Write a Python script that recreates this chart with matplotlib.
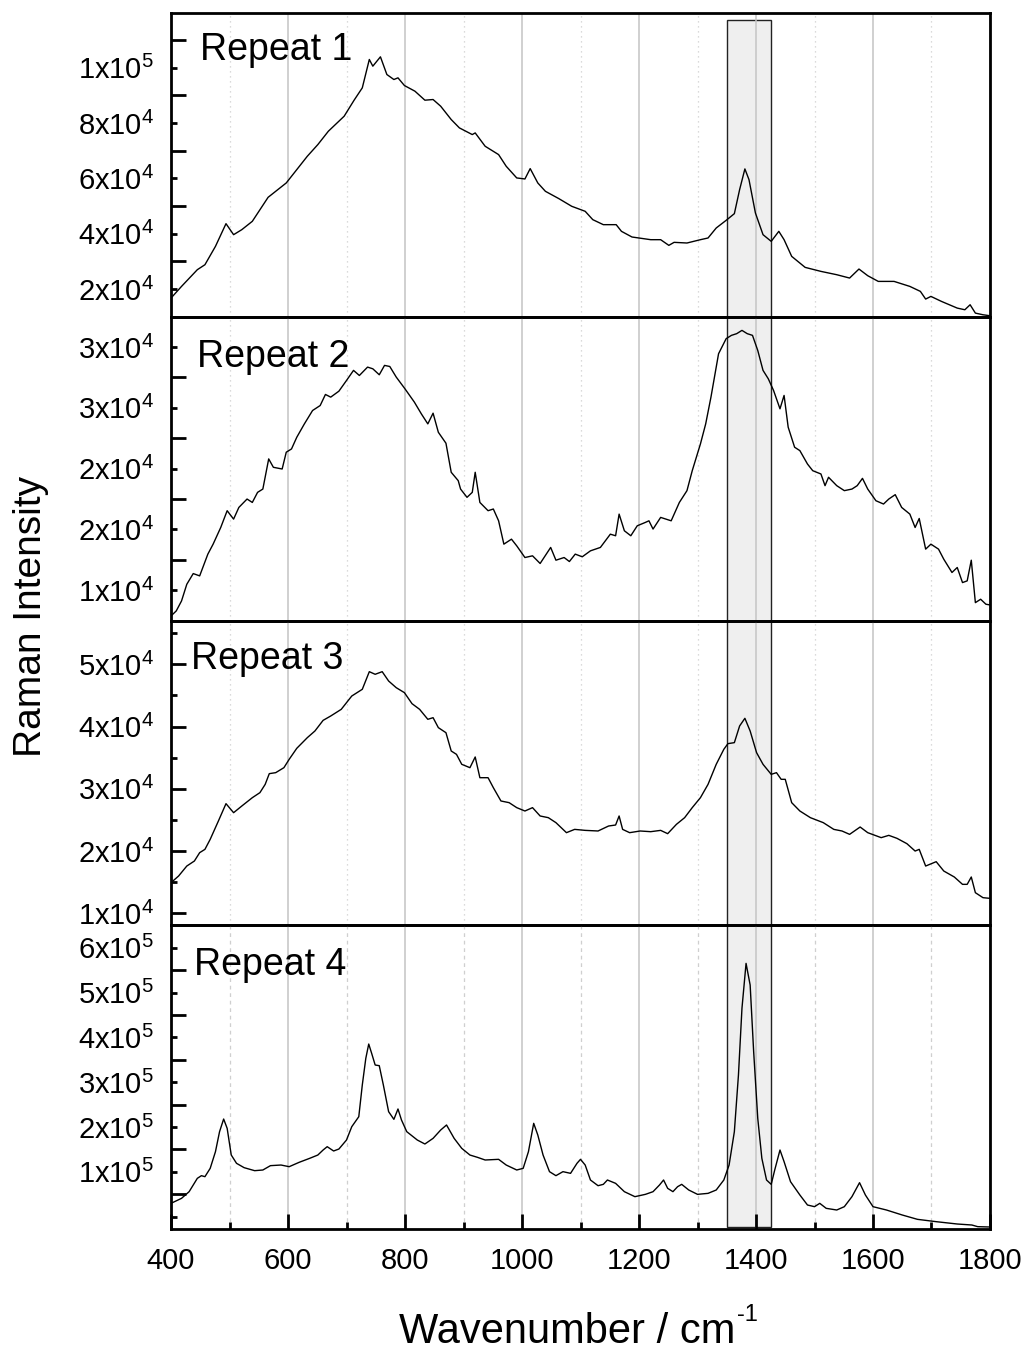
import matplotlib
matplotlib.use("Agg")
import matplotlib.pyplot as plt
import matplotlib.transforms as mtransforms
from matplotlib.patches import Rectangle
from matplotlib.ticker import MultipleLocator

plt.rcParams["font.family"] = ["Liberation Sans", "DejaVu Sans"]
plt.rcParams["mathtext.fontset"] = "custom"
plt.rcParams["mathtext.rm"] = "Liberation Sans"
plt.rcParams["mathtext.it"] = "Liberation Sans:italic"
plt.rcParams["mathtext.bf"] = "Liberation Sans:bold"
plt.rcParams["mathtext.default"] = "regular"

# ---------------- spectra (wavenumber / cm-1, intensity / counts) ----------------
rep1_wn = [400, 418, 445, 458, 476, 494, 507, 521, 539, 566, 597, 615, 633, 651, 669,
           696, 713, 727, 739, 745, 758, 769, 781, 788, 799, 817, 834, 848, 861, 879,
           893, 915, 920, 937, 960, 973, 991, 1005, 1014, 1027, 1040, 1063, 1085, 1108,
           1121, 1139, 1161, 1170, 1188, 1220, 1237, 1251, 1260, 1282, 1305, 1318, 1332,
           1349, 1363, 1372, 1381, 1388, 1399, 1412, 1426, 1439, 1448, 1461, 1484, 1511,
           1538, 1560, 1576, 1591, 1609, 1636, 1663, 1681, 1690, 1699, 1717, 1744, 1757,
           1766, 1775, 1788, 1800]
rep1_int = [16740, 20965, 27000, 28800, 35440, 43640, 39660, 41470, 44490, 53170, 58360,
            63180, 68010, 72230, 77060, 82490, 88280, 92740, 103000, 100580, 103960,
            97560, 95750, 96360, 93580, 91530, 88280, 88520, 86100, 81280, 78260, 75850,
            76450, 71630, 68610, 64390, 60170, 59800, 63550, 58360, 55340, 52690, 49920,
            48110, 45090, 43280, 43280, 40870, 38820, 37850, 37850, 35800, 36890, 36650,
            37850, 38460, 42080, 44850, 47260, 55950, 63430, 59570, 47500, 39660, 37250,
            40870, 37850, 31820, 27840, 26390, 25190, 23980, 27240, 24830, 22770, 22770,
            20960, 19160, 16380, 17350, 15540, 13120, 12520, 14330, 11310, 10710, 10350]

rep2_wn = [400, 409, 418, 427, 438, 449, 463, 472, 485, 496, 507, 516, 530, 539, 548, 557,
           567, 575, 590, 597, 606, 615, 628, 642, 655, 664, 673, 687, 700, 712, 722, 736,
           745, 756, 765, 774, 785, 800, 816, 828, 839, 848, 857, 870, 879, 891, 895, 906,
           915, 920, 928, 942, 951, 960, 969, 982, 991, 1005, 1018, 1031, 1049, 1058, 1072,
           1081, 1091, 1103, 1117, 1134, 1151, 1160, 1166, 1175, 1186, 1197, 1211, 1217,
           1224, 1237, 1255, 1269, 1282, 1291, 1305, 1314, 1323, 1336, 1349, 1358, 1367,
           1376, 1385, 1394, 1403, 1412, 1421, 1430, 1441, 1448, 1455, 1466, 1475, 1488,
           1497, 1511, 1518, 1524, 1538, 1551, 1564, 1573, 1582, 1591, 1605, 1618, 1627,
           1638, 1649, 1663, 1672, 1679, 1690, 1699, 1712, 1721, 1735, 1744, 1753, 1761,
           1768, 1775, 1784, 1793, 1800]
rep2_int = [7885, 8300, 9120, 10490, 11370, 11180, 12970, 13790, 15160, 16540, 15850, 16810,
            17500, 17220, 18050, 18320, 20800, 20110, 19970, 21350, 21620, 22580, 23680,
            24780, 25190, 26100, 25880, 26370, 27250, 28080, 27660, 28350, 28210, 27720,
            28490, 28400, 27530, 26560, 25470, 24500, 23680, 24560, 22990, 22090, 19700,
            19010, 18320, 17640, 18050, 19700, 17220, 16540, 16680, 15710, 13790, 14200,
            13650, 12690, 12830, 12200, 13520, 12470, 12690, 12360, 12970, 12750, 13240,
            13520, 14610, 14480, 16260, 14890, 14480, 15300, 15580, 15710, 15030, 15990,
            15710, 17220, 18190, 19830, 22030, 23680, 25880, 29450, 30690, 30960, 31100,
            31370, 31100, 30960, 29720, 28080, 27390, 26430, 24920, 26020, 23410, 21760,
            21480, 20380, 19830, 19560, 18600, 19290, 18600, 18190, 18320, 18600, 19200,
            18320, 17360, 17090, 17500, 17860, 16810, 16260, 15160, 15900, 13380, 13790,
            13380, 12550, 11460, 11870, 10630, 10770, 12470, 8980, 9260, 8850, 8790]

rep3_wn = [400, 413, 427, 440, 449, 458, 467, 481, 494, 507, 521, 539, 552, 561, 568, 579,
           593, 602, 615, 633, 646, 660, 673, 691, 709, 727, 739, 749, 761, 772, 785, 799,
           812, 825, 839, 848, 857, 870, 879, 888, 897, 911, 920, 928, 942, 951, 964, 978,
           991, 1005, 1018, 1031, 1045, 1058, 1076, 1090, 1108, 1130, 1148, 1160, 1166,
           1172, 1184, 1202, 1220, 1237, 1249, 1264, 1278, 1291, 1305, 1318, 1332, 1345,
           1352, 1363, 1372, 1381, 1390, 1401, 1412, 1426, 1435, 1443, 1450, 1461, 1475,
           1493, 1515, 1533, 1547, 1560, 1578, 1591, 1614, 1627, 1641, 1658, 1672, 1679,
           1690, 1708, 1721, 1739, 1753, 1761, 1768, 1775, 1788, 1800]
rep3_int = [14930, 16000, 17600, 18410, 19750, 20280, 21890, 24830, 27620, 26170, 27240,
            28580, 29390, 30720, 32440, 32600, 33400, 34740, 36510, 38220, 39290, 41000,
            41700, 42770, 44910, 45990, 48820, 48400, 48820, 47320, 46250, 45450, 43680,
            42770, 41170, 41430, 39830, 39020, 36080, 35540, 33940, 33400, 35120, 31790,
            31790, 30190, 28050, 27780, 26980, 26440, 26980, 25640, 25370, 24570, 22960,
            23490, 23330, 23230, 24030, 24190, 25640, 23490, 22960, 23230, 23120, 23330,
            22800, 24300, 25370, 26980, 28580, 30720, 33940, 36350, 37260, 37420, 40100,
            41330, 39290, 35810, 33940, 32330, 32600, 31530, 31530, 27780, 26440, 25370,
            24570, 23490, 23230, 22690, 23870, 22960, 22160, 22530, 22050, 21190, 20010,
            20280, 17600, 18300, 16800, 15840, 14660, 14660, 15840, 13320, 12520, 12410]

rep4_wn = [400, 418, 431, 445, 452, 458, 467, 476, 483, 490, 496, 503, 512, 525, 543, 557,
           570, 588, 602, 619, 637, 651, 660, 667, 678, 687, 700, 709, 721, 727, 733, 738,
           743, 749, 756, 763, 772, 781, 788, 794, 803, 821, 834, 848, 861, 871, 884, 897,
           911, 924, 937, 960, 973, 991, 1002, 1011, 1020, 1027, 1036, 1047, 1058, 1070,
           1083, 1094, 1100, 1108, 1117, 1130, 1139, 1146, 1160, 1175, 1193, 1211, 1224,
           1235, 1242, 1249, 1258, 1266, 1273, 1285, 1300, 1318, 1332, 1345, 1354, 1363,
           1370, 1376, 1383, 1390, 1396, 1403, 1410, 1418, 1426, 1432, 1441, 1448, 1459,
           1475, 1488, 1500, 1509, 1520, 1538, 1551, 1564, 1577, 1587, 1600, 1623, 1650,
           1676, 1708, 1744, 1769, 1779, 1800]
rep4_int = [29740, 40890, 55760, 85500, 91450, 89220, 107800, 145000, 189600, 217800,
            197000, 137500, 119000, 109300, 102600, 104100, 113800, 115200, 111500, 121200,
            130100, 137500, 148700, 156100, 146500, 150900, 171000, 200700, 223000, 293700,
            353200, 385100, 364300, 338300, 336800, 293700, 234200, 217100, 240200, 215600,
            189600, 171000, 162100, 174700, 193300, 204500, 174700, 152400, 137500, 132300,
            126400, 127900, 115200, 104100, 107800, 145000, 208200, 182200, 137500, 100400,
            91450, 100400, 96650, 119000, 127900, 115200, 81800, 69100, 72100, 81800, 74350,
            55760, 44610, 49800, 55760, 70600, 81800, 63200, 55760, 66900, 72100, 59500,
            49800, 52000, 59500, 81800, 115200, 189600, 316000, 464700, 565000, 516700,
            368000, 219300, 130100, 81800, 72100, 104100, 148700, 122700, 78070, 48330,
            26020, 22300, 29740, 18590, 14870, 22300, 44610, 75840, 48330, 22300, 14870,
            3720, -5950, -11150, -16360, -18590, -22300, -23050]

panel_names = ["Repeat 1", "Repeat 2", "Repeat 3", "Repeat 4"]

# y-axis limits and tick positions / labels for each panel
rep1_ylim = (9900, 119800)
rep1_labeled = [20000, 40000, 60000, 80000, 100000]
rep1_labels = [r"2x10$^{4}$", r"4x10$^{4}$", r"6x10$^{4}$", r"8x10$^{4}$", r"1x10$^{5}$"]
rep1_unlabeled = [30000, 50000, 70000, 90000, 110000]

rep2_ylim = (7470, 32470)
rep2_labeled = [10000, 15000, 20000, 25000, 30000]
rep2_labels = [r"1x10$^{4}$", r"2x10$^{4}$", r"2x10$^{4}$", r"3x10$^{4}$", r"3x10$^{4}$"]
rep2_unlabeled = [12500, 17500, 22500, 27500]

rep3_ylim = (8130, 56960)
rep3_labeled = [10000, 20000, 30000, 40000, 50000]
rep3_labels = [r"1x10$^{4}$", r"2x10$^{4}$", r"3x10$^{4}$", r"4x10$^{4}$", r"5x10$^{4}$"]
rep3_unlabeled = [15000, 25000, 35000, 45000, 55000]

rep4_ylim = (-27500, 650600)
rep4_labeled = [0, 100000, 200000, 300000, 400000, 500000, 600000]
rep4_labels = ["", r"1x10$^{5}$", r"2x10$^{5}$", r"3x10$^{5}$", r"4x10$^{5}$",
               r"5x10$^{5}$", r"6x10$^{5}$"]
rep4_unlabeled = [50000, 150000, 250000, 350000, 450000, 550000]

band_range = (1350, 1426)

# ---------------- figure ----------------
W, H = 1029, 1351
fig = plt.figure(figsize=(W / 100, H / 100), dpi=100)

left_px, right_px = 171, 990
edges_px = [13, 317, 621, 925, 1229]

series = [
    (rep1_wn, rep1_int, rep1_ylim, rep1_labeled, rep1_labels, rep1_unlabeled),
    (rep2_wn, rep2_int, rep2_ylim, rep2_labeled, rep2_labels, rep2_unlabeled),
    (rep3_wn, rep3_int, rep3_ylim, rep3_labeled, rep3_labels, rep3_unlabeled),
    (rep4_wn, rep4_int, rep4_ylim, rep4_labeled, rep4_labels, rep4_unlabeled),
]
label_long = [False, False, True, False]
minor_style = [(0, (1, 3)), (0, (1, 3)), (0, (1, 3)), (0, (3, 3))]
name_pos = [(0.036, 0.845), (0.032, 0.836), (0.024, 0.842), (0.028, 0.836)]
tick_fs = 21

axes = []
for i, (wn, inten, ylim, labeled, labels, unlabeled) in enumerate(series):
    top, bot = edges_px[i], edges_px[i + 1]
    ax = fig.add_axes([left_px / W, 1 - bot / H, (right_px - left_px) / W, (bot - top) / H])
    ax.set_facecolor("none")
    ax.plot(wn, inten, color="black", lw=1.0, zorder=3)
    ax.set_xlim(400, 1800)
    ax.set_ylim(*ylim)

    ax.xaxis.set_major_locator(MultipleLocator(200))
    ax.xaxis.set_minor_locator(MultipleLocator(100))
    ax.grid(True, which="major", axis="x", color="#c4c4c4", lw=1.1, zorder=1)
    ax.grid(True, which="minor", axis="x", color="#cfcfcf", lw=0.9,
            linestyle=minor_style[i], zorder=1)

    ax.set_yticks(labeled, labels)
    ax.set_yticks(unlabeled, minor=True)
    long_len, short_len = 10.5, 4.5
    maj_len = long_len if label_long[i] else short_len
    min_len = short_len if label_long[i] else long_len
    ax.tick_params(axis="y", which="major", direction="in", length=maj_len, width=2.0,
                   labelsize=tick_fs, pad=12, left=True, right=False)
    ax.tick_params(axis="y", which="minor", direction="in", length=min_len, width=2.0,
                   left=True, right=False)

    if i < 3:
        ax.tick_params(axis="x", which="both", length=0, labelbottom=False)
    else:
        ax.set_xticks([400, 600, 800, 1000, 1200, 1400, 1600, 1800])
        ax.tick_params(axis="x", which="major", direction="in", length=10.5, width=2.0,
                       labelsize=tick_fs, pad=13, top=False)
        ax.tick_params(axis="x", which="minor", direction="in", length=5, width=2.0,
                       top=False)

    for sp in ax.spines.values():
        sp.set_linewidth(2.0)
        sp.set_zorder(4)

    ax.text(name_pos[i][0], name_pos[i][1], panel_names[i], transform=ax.transAxes,
            fontsize=27, ha="left", va="baseline", zorder=5)
    axes.append(ax)

# highlighted band spanning all panels
band_tf = mtransforms.blended_transform_factory(axes[-1].transData, fig.transFigure)
y_lo, y_hi = 1 - 1227 / H, 1 - 19.7 / H
band = Rectangle((band_range[0], y_lo), band_range[1] - band_range[0], y_hi - y_lo,
                 transform=band_tf, facecolor="#efefef", edgecolor="#222222",
                 lw=1.0, zorder=-1)
fig.add_artist(band)

# x-axis title with a hyphen-style "-1" superscript
xlab = fig.text(399 / W, 1 - 1343 / H, "Wavenumber / cm", fontsize=30,
                ha="left", va="baseline")
fig.canvas.draw()
bb = xlab.get_window_extent()
fig.text(bb.x1 / W + 0.002, 1 - 1321 / H, "-1", fontsize=17, ha="left", va="baseline")

fig.text(0.030, 1 - 616 / H, "Raman Intensity", fontsize=28, rotation=90,
         ha="center", va="center")

fig.savefig("out.png", dpi=100)
